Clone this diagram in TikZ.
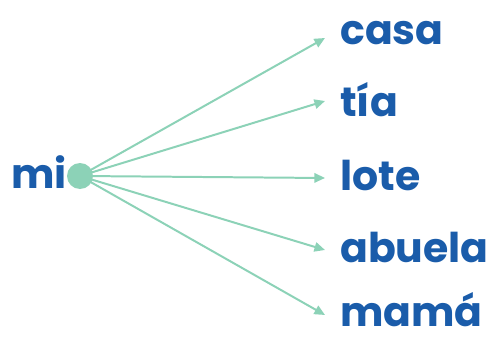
\documentclass[tikz,border=0pt]{standalone}
\usepackage{fontspec}
\setmainfont{Poppins}
\usetikzlibrary{arrows.meta, positioning}
\definecolor{wordblue}{HTML}{1A5CAA}
\definecolor{linkgreen}{HTML}{8CD2B7}

\begin{document}
\begin{tikzpicture}[x=0.03cm, y=-0.03cm, >={Triangle[length=9pt, width=8pt]}]
  \tikzset{
    word/.style={font=\fontsize{35}{37}\selectfont\bfseries, text=wordblue, anchor=base west, inner sep=0pt, text depth=0pt},
    link/.style={->, draw=linkgreen, fill=linkgreen, line width=1.7pt}
  }
  \useasboundingbox (0, 0) rectangle (501, 340);
  % Hub
  \node[word, anchor=base east] (mi) at (67, 188) {mi};
  \coordinate (hub) at (80, 176);
  % Targets
  \node[word] (casa) at (340, 45) {casa};
  \node[word] (tia) at (340, 117) {tía};
  \node[word] (lote) at (340, 190) {lote};
  \node[word] (abuela) at (340, 262) {abuela};
  \node[word] (mama) at (340, 326) {mamá};
  \coordinate (ecasa) at (325, 38);
  \coordinate (etia) at (325, 101);
  \coordinate (elote) at (325, 178);
  \coordinate (eabuela) at (325, 250);
  \coordinate (emama) at (325, 315);
  % Links
  \foreach \t in {casa, tia, lote, abuela, mama}
    \draw[link] (hub) -- (e\t);
  \node[circle, fill=linkgreen, inner sep=0pt, minimum size=0.78cm] (dot) at (hub) {};
\end{tikzpicture}
\end{document}
